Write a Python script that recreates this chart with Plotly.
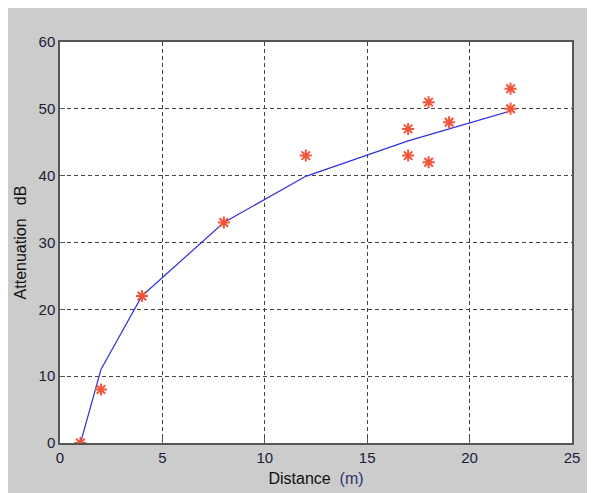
import plotly.graph_objects as go

# Measured data (red asterisks)
meas_distance = [1, 2, 4, 8, 12, 17, 17, 18, 18, 19, 22, 22]
meas_atten = [0, 8, 22, 33, 43, 47, 43, 51, 42, 48, 53, 50]

# Fitted model line (blue)
fit_distance = [1, 2, 4, 8, 12, 17, 18, 19, 22]
fit_atten = [0, 11, 22, 33, 39.9, 45.2, 46.1, 47.0, 49.7]

x_ticks = [0, 5, 10, 15, 20, 25]
y_ticks = [0, 10, 20, 30, 40, 50, 60]

fig = go.Figure()
fig.add_trace(go.Scatter(x=fit_distance, y=fit_atten, mode="lines",
                         line=dict(color="#3030e0", width=1.2), showlegend=False))
fig.add_trace(go.Scatter(x=meas_distance, y=meas_atten, mode="markers",
                         marker=dict(symbol="asterisk-open", size=10,
                                     line=dict(color="#ff0000", width=2)),
                         showlegend=False))

axis_common = dict(showline=True, linecolor="#555555", linewidth=1.5, mirror=True,
                   showgrid=True, gridcolor="#444444", griddash="4px,3px", gridwidth=1,
                   zeroline=False, ticks="inside", ticklen=5, tickcolor="#555555",
                   automargin=False,
                   tickfont=dict(family="Arial, Liberation Sans", size=15, color="#20203a"))

fig.update_xaxes(range=[0, 25], tickvals=x_ticks, **axis_common,
                 title=dict(text="Distance  <span style='color:#33336a'>(m)</span>", standoff=8,
                            font=dict(family="Arial, Liberation Sans", size=16, color="#111111")))
fig.update_yaxes(range=[0, 60], tickvals=y_ticks, **axis_common,
                 title=dict(text="Attenuation   dB", standoff=8,
                            font=dict(family="Arial, Liberation Sans", size=16, color="#111111")))

fig.update_layout(width=587, height=485, paper_bgcolor="#cccccc", plot_bgcolor="white",
                  margin=dict(l=52, r=23, t=34, b=50))

fig.write_html("out.html")
